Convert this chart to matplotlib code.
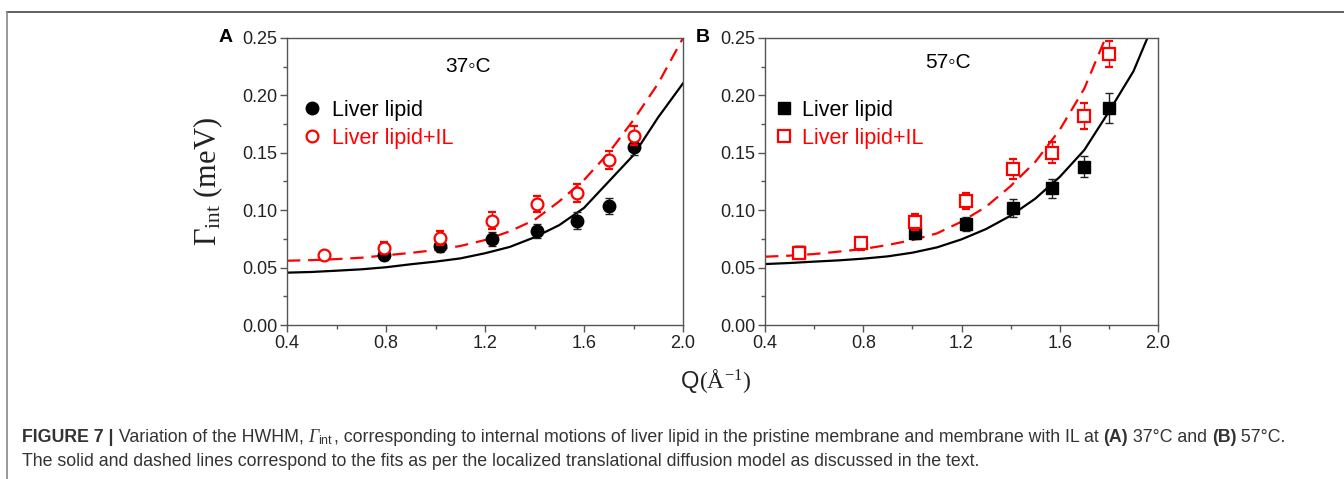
import matplotlib
matplotlib.use("Agg")
import matplotlib.pyplot as plt
from matplotlib.lines import Line2D
from matplotlib.ticker import MultipleLocator, FormatStrFormatter

plt.rcParams['mathtext.fontset'] = 'custom'
plt.rcParams['mathtext.rm'] = 'Liberation Serif'
plt.rcParams['mathtext.it'] = 'Liberation Serif:italic'
plt.rcParams['mathtext.sf'] = 'Liberation Sans'
plt.rcParams['font.family'] = ['Liberation Sans', 'DejaVu Sans']

# ---------------- data ----------------
labels = ["Liver lipid", "Liver lipid+IL"]
temps = ["37\u25e6C", "57\u25e6C"]

# Panel A (37 C)
qA_black = [0.79, 1.02, 1.23, 1.41, 1.57, 1.70, 1.80]
gA_black = [0.061, 0.069, 0.075, 0.082, 0.091, 0.104, 0.155]
eA_black = [0.004, 0.005, 0.006, 0.006, 0.007, 0.007, 0.007]
qA_red = [0.55, 0.79, 1.02, 1.23, 1.41, 1.57, 1.70, 1.80]
gA_red = [0.061, 0.067, 0.076, 0.091, 0.105, 0.115, 0.144, 0.165]
eA_red = [0.003, 0.005, 0.006, 0.007, 0.007, 0.008, 0.008, 0.008]

# Panel B (57 C)
qB_black = [0.54, 1.01, 1.22, 1.41, 1.57, 1.70, 1.80]
gB_black = [0.064, 0.080, 0.088, 0.102, 0.119, 0.138, 0.189]
eB_black = [0.005, 0.005, 0.006, 0.008, 0.008, 0.009, 0.013]
qB_red = [0.54, 0.79, 1.01, 1.22, 1.41, 1.57, 1.70, 1.80]
gB_red = [0.063, 0.071, 0.090, 0.108, 0.136, 0.150, 0.182, 0.236]
eB_red = [0.005, 0.006, 0.007, 0.007, 0.009, 0.009, 0.011, 0.011]

# fit curves
q_fit = [0.4, 0.5, 0.6, 0.7, 0.8, 0.9, 1.0, 1.1, 1.2, 1.3, 1.4, 1.5, 1.6, 1.7, 1.8, 1.9, 2.0]
fitA_black = [0.0456, 0.0462, 0.0473, 0.0485, 0.0503, 0.0529, 0.0552, 0.058, 0.0625, 0.068,
              0.0764, 0.087, 0.102, 0.125, 0.148, 0.181, 0.2105]
fitA_red = [0.056, 0.0565, 0.0574, 0.0586, 0.0607, 0.0628, 0.0653, 0.0688, 0.074, 0.0816,
            0.0915, 0.1077, 0.1263, 0.150, 0.1786, 0.2105, 0.250]
fitB_black = [0.0531, 0.054, 0.0552, 0.0563, 0.0578, 0.0598, 0.063, 0.0676, 0.0746, 0.0836,
              0.0952, 0.110, 0.129, 0.1524, 0.1858, 0.221, 0.272]
q_fitB_red = [0.4, 0.5, 0.6, 0.7, 0.8, 0.9, 1.0, 1.1, 1.2, 1.3, 1.4, 1.5, 1.6, 1.7, 1.8]
fitB_red = [0.0595, 0.0604, 0.0618, 0.0639, 0.0662, 0.0697, 0.074, 0.0798, 0.090, 0.103,
            0.121, 0.142, 0.170, 0.206, 0.257]

x_ticks = [0.4, 0.8, 1.2, 1.6, 2.0]
y_ticks = [0.00, 0.05, 0.10, 0.15, 0.20, 0.25]

caption1 = [("FIGURE 7 |", 'b'), (" Variation of the HWHM, ", 'n'), ("\u0393", 'g'), (r"$_{\mathsf{int}}$", 'n'),
            (", corresponding to internal motions of liver lipid in the pristine membrane and membrane with IL at ", 'n'),
            ("(A)", 'b'), (" 37\u00b0C and ", 'n'), ("(B)", 'b'), (" 57\u00b0C.", 'n')]
caption2 = [("The solid and dashed lines correspond to the fits as per the localized translational diffusion model as discussed in the text.", 'n')]

# ---------------- figure ----------------
W, H = 1344, 479
fig = plt.figure(figsize=(W / 100, H / 100), dpi=100)

RED = '#ff0000'
axA = fig.add_axes([287 / W, 1 - 325 / H, 396 / W, 287 / H])
axB = fig.add_axes([765 / W, 1 - 325 / H, 393 / W, 287 / H])

def style(ax):
    ax.set_xlim(0.4, 2.0)
    ax.set_ylim(0.0, 0.25)
    ax.set_xticks(x_ticks)
    ax.set_yticks(y_ticks)
    ax.xaxis.set_minor_locator(MultipleLocator(0.2))
    ax.yaxis.set_minor_locator(MultipleLocator(0.025))
    ax.xaxis.set_major_formatter(FormatStrFormatter('%.1f'))
    ax.yaxis.set_major_formatter(FormatStrFormatter('%.2f'))
    ax.tick_params(which='both', direction='out', colors='#555555', labelcolor='#222222',
                   labelsize=13, top=False, right=False)
    ax.tick_params(which='major', length=5, width=1, pad=2)
    ax.tick_params(which='minor', length=3, width=1)
    for s in ax.spines.values():
        s.set_color('#555555')
        s.set_linewidth(1.0)

# Panel A
axA.plot(q_fit, fitA_black, color='black', lw=1.6, zorder=2)
axA.plot(q_fit, fitA_red, color=RED, lw=1.6, dashes=(6, 3.5), zorder=2)
axA.errorbar(qA_black, gA_black, yerr=eA_black, fmt='o', ms=9, color='black',
             ecolor='#222222', elinewidth=1, capsize=3, capthick=1, zorder=3)
axA.errorbar(qA_red, gA_red, yerr=eA_red, fmt='o', ms=8.5, mfc='white', mec=RED, mew=1.6,
             ecolor=RED, elinewidth=1, capsize=3, capthick=1, zorder=4)
style(axA)
axA.text(0.457, 0.902, temps[0], transform=axA.transAxes, ha='center', va='center',
         fontsize=15, family=['Liberation Sans', 'DejaVu Sans'])
hA = [Line2D([], [], ls='none', marker='o', ms=9, color='black'),
      Line2D([], [], ls='none', marker='o', ms=8.5, mfc='white', mec=RED, mew=1.6)]
legA = axA.legend(hA, labels, loc='upper left', bbox_to_anchor=(0.035, 0.785), frameon=False,
                  fontsize=15.5, handlelength=1.0, handletextpad=0.45, labelspacing=0.33,
                  borderaxespad=0, borderpad=0)
for t, c in zip(legA.get_texts(), ['black', RED]):
    t.set_color(c)

# Panel B
axB.plot(q_fit, fitB_black, color='black', lw=1.6, zorder=2)
axB.plot(q_fitB_red, fitB_red, color=RED, lw=1.6, dashes=(6, 3.5), zorder=2)
axB.errorbar(qB_black, gB_black, yerr=eB_black, fmt='s', ms=8.5, color='black',
             ecolor='#222222', elinewidth=1, capsize=3, capthick=1, zorder=3)
axB.errorbar(qB_red, gB_red, yerr=eB_red, fmt='s', ms=8.5, mfc='white', mec=RED, mew=1.6,
             ecolor=RED, elinewidth=1, capsize=3, capthick=1, zorder=4)
style(axB)
axB.text(0.466, 0.916, temps[1], transform=axB.transAxes, ha='center', va='center',
         fontsize=15, family=['Liberation Sans', 'DejaVu Sans'])
hB = [Line2D([], [], ls='none', marker='s', ms=8.5, color='black'),
      Line2D([], [], ls='none', marker='s', ms=8.5, mfc='white', mec=RED, mew=1.6)]
legB = axB.legend(hB, labels, loc='upper left', bbox_to_anchor=(0.022, 0.785), frameon=False,
                  fontsize=15.5, handlelength=1.0, handletextpad=0.3, labelspacing=0.33,
                  borderaxespad=0, borderpad=0)
for t, c in zip(legB.get_texts(), ['black', RED]):
    t.set_color(c)

# panel letters
fig.text(226 / W, 1 - 38 / H, "A", ha='center', va='center', fontsize=14, fontweight='bold')
fig.text(703 / W, 1 - 38 / H, "B", ha='center', va='center', fontsize=14, fontweight='bold')

# y label
fig.text(208 / W, 1 - 181 / H, r"$\Gamma_{\mathrm{int}}$ (meV)", rotation=90, ha='center', va='center',
         fontsize=22, family='Liberation Serif', color='#222222')

# run-based text helper
renderer = fig.canvas.get_renderer()

def runs(x_px, y_px, parts, ha='left'):
    objs = []
    widths = []
    for s, props in parts:
        t = fig.text(0, 1 - y_px / H, s, va='baseline', **props)
        bb = t.get_window_extent(renderer)
        objs.append(t)
        widths.append(bb.width)
    total = sum(widths)
    x = x_px - (total / 2 if ha == 'center' else 0)
    for t, w in zip(objs, widths):
        t.set_x(x / W)
        x += w
    return total

# x label
runs(716, 388, [("Q", dict(fontsize=17, family='Liberation Sans', color='#222222')),
                (r"(Å$^{\mathrm{-1}}$)", dict(fontsize=17, family='Liberation Serif', color='#222222'))],
     ha='center')

def cap_parts(items):
    out = []
    for s, k in items:
        if k == 'g':
            out.append((s, dict(fontsize=13, family='Liberation Serif', style='italic', color='#333333')))
        else:
            out.append((s, dict(fontsize=12.8, family=['Liberation Sans', 'DejaVu Sans'], color='#333333',
                                fontweight='bold' if k == 'b' else 'normal')))
    return out

runs(22, 442, cap_parts(caption1))
runs(22, 466, cap_parts(caption2))

# frame lines
fig.add_artist(Line2D([7 / W, 1.0], [1 - 12 / H, 1 - 12 / H], color='#444444', lw=1.2))
fig.add_artist(Line2D([7 / W, 7 / W], [0.0, 1 - 12 / H], color='#888888', lw=1.2))

fig.savefig("out.png", dpi=100)
